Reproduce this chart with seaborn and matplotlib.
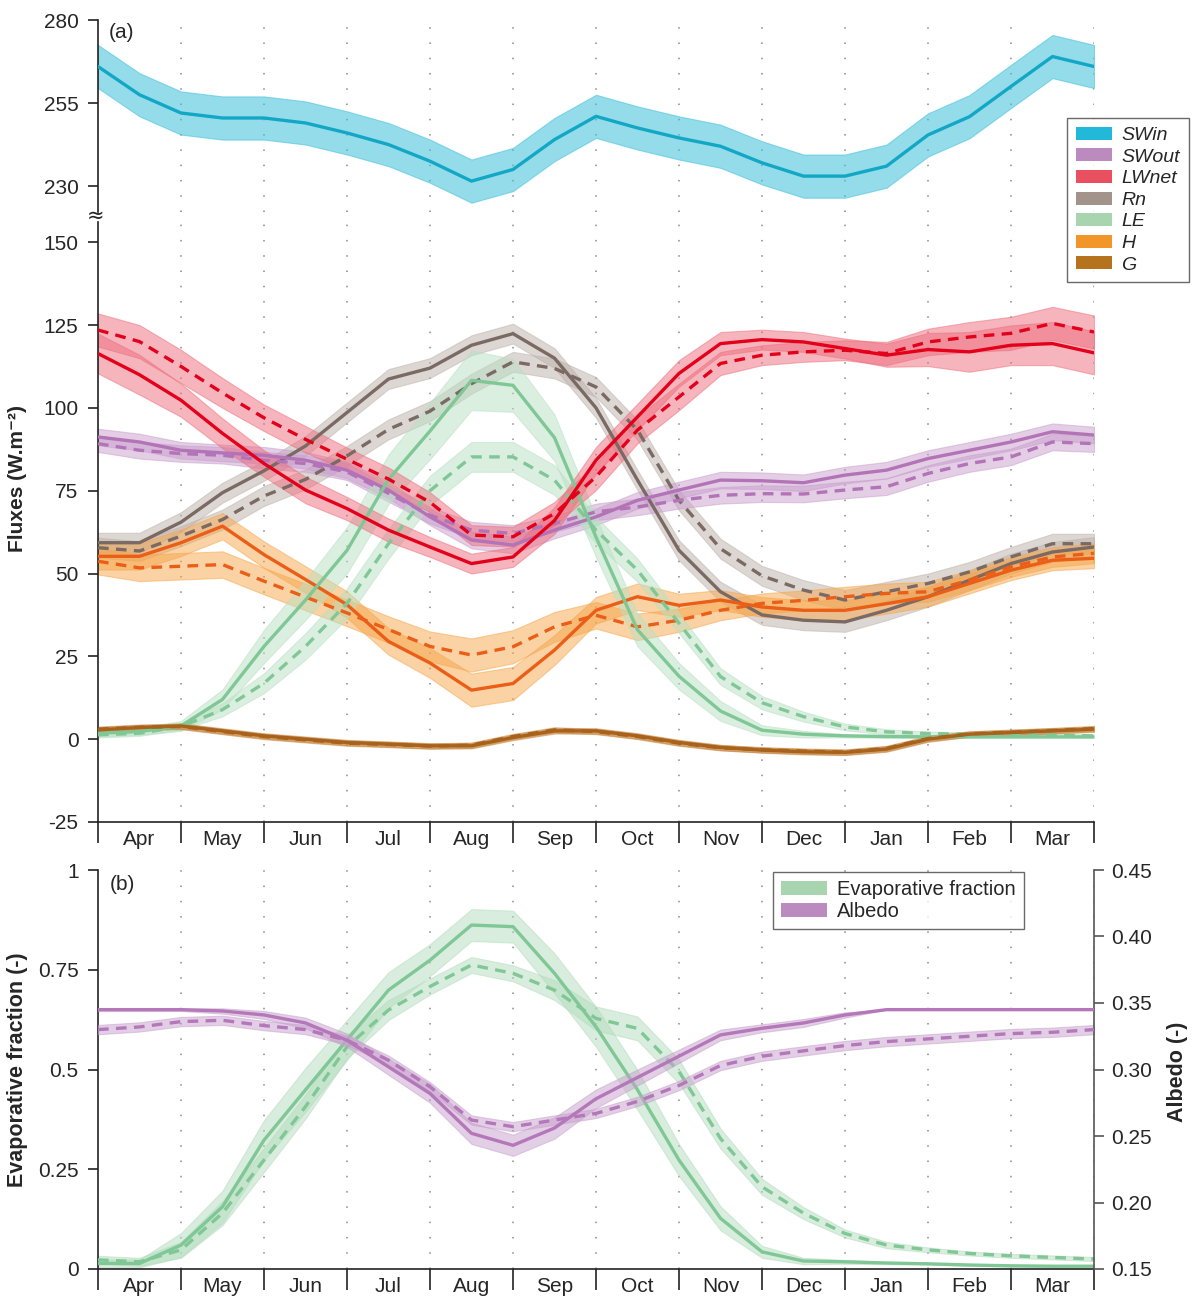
import numpy as np
import matplotlib
matplotlib.use("Agg")
import matplotlib.pyplot as plt
import seaborn as sns
from matplotlib.patches import Patch

sns.set_theme(style="white")
plt.rcParams["font.family"] = ["Liberation Sans", "DejaVu Sans"]
plt.rcParams["axes.unicode_minus"] = False

# ---------------- data (half-month steps, Apr -> Mar) ----------------
months = ["Apr", "May", "Jun", "Jul", "Aug", "Sep", "Oct", "Nov", "Dec", "Jan", "Feb", "Mar"]
month_pos = np.arange(25) * 0.5

swin = [266, 257.5, 252, 250.5, 250.5, 249, 246, 242.5, 237.5, 231.5, 235, 244, 251,
        247.5, 244.5, 242, 237, 233, 233, 236, 245.4, 250.9, 260, 269, 266]

swout_s = [91.2, 89.7, 87.2, 86.4, 85.7, 84.2, 81.2, 75.2, 67.1, 60.1, 58.6, 63.1, 67.1,
           72.1, 75.2, 78.2, 78, 77.4, 79.7, 81.2, 84.7, 87.2, 89.7, 92.8, 91.8]
swout_d = [89.2, 87.2, 86.2, 85.7, 84.2, 83.2, 80.7, 74.2, 67.6, 63.1, 62.1, 65.1, 68.6,
           70.1, 72.1, 73.6, 74.1, 74, 75.2, 76.2, 80.2, 83.2, 85.2, 89.7, 89.2]

lwnet_s = [116.4, 110, 102.3, 92.3, 83.2, 75.2, 69.6, 63.1, 58, 53, 55, 66, 84.2,
           97.3, 110.4, 119.4, 120.6, 119.9, 117.9, 115.9, 117.6, 116.9, 118.9, 119.4, 116.6]
lwnet_d = [123.5, 120, 112.5, 104.5, 97, 90.5, 84.5, 78.5, 71.5, 61.6, 61.1, 68.1, 79.2,
           93.3, 103.3, 113.4, 115.9, 116.9, 117.4, 116.4, 119.9, 121.4, 122.5, 125.5, 122.9]

rn_s = [59.3, 59.3, 65.5, 74.4, 81, 88.5, 98.6, 108.7, 112, 118.9, 122.4, 115, 100,
        78.2, 57, 44.5, 37.5, 35.9, 35.4, 38.9, 43, 48, 53, 56.5, 58]
rn_d = [57.8, 56.8, 61.3, 66.3, 73.4, 78.4, 85.5, 93.5, 99, 107.3, 113.9, 111.9, 106.3,
        93.3, 72.1, 57.5, 49.3, 45, 42, 44.5, 47, 50.5, 55, 59, 59]

le_s = [1.8, 2.3, 4, 12, 28, 42, 57, 78.4, 93, 108.3, 106.8, 91, 61,
        33, 19, 8.5, 2.7, 1.5, 1.0, 0.8, 0.7, 0.7, 0.7, 0.7, 0.7]
le_d = [1.3, 1.8, 3.8, 8.9, 16.9, 28, 41, 59, 75, 85.2, 85.2, 78.2, 63.1,
        51, 35, 18.9, 11, 6.8, 3.7, 2.2, 1.7, 1.5, 1.3, 1.2, 1.0]

h_s = [55.2, 55.2, 59.3, 64.3, 55.7, 48.2, 40.6, 29.5, 23, 14.8, 16.8, 26.9, 38.9,
       43, 40.4, 42, 39.9, 38.9, 38.9, 40.9, 43, 47, 51, 54, 54.6]
h_d = [53.7, 51.7, 52.2, 52.7, 47.7, 42.9, 38.1, 33.1, 28, 25.4, 27.9, 33.9, 37.4,
       33.9, 35.9, 38.9, 41, 41.9, 43, 44, 44.5, 48, 52, 55, 56.1]

g_s = [2.8, 3.5, 4, 2.5, 1, 0, -1, -1.5, -2, -2, 0.5, 2.5, 2.5,
       1, -1, -2.5, -3.3, -3.8, -4, -3, 0, 1.5, 2, 2.5, 3]
g_d = [3.0, 3.6, 3.8, 2.3, 0.8, -0.2, -1.2, -1.6, -2.1, -1.8, 0.8, 2.8, 2.3,
       0.8, -1.2, -2.6, -3.2, -3.6, -3.9, -2.8, 0.2, 1.6, 2.1, 2.6, 3.2]

ef_s = [0.014, 0.014, 0.06, 0.156, 0.323, 0.449, 0.574, 0.699, 0.774, 0.862, 0.858, 0.741, 0.607,
        0.449, 0.273, 0.127, 0.043, 0.02, 0.018, 0.015, 0.013, 0.01, 0.008, 0.007, 0.007]
ef_d = [0.023, 0.018, 0.048, 0.14, 0.273, 0.407, 0.557, 0.649, 0.708, 0.762, 0.741, 0.699, 0.628,
        0.603, 0.495, 0.327, 0.206, 0.14, 0.089, 0.06, 0.048, 0.039, 0.033, 0.029, 0.025]

alb_s = [0.345, 0.345, 0.345, 0.344, 0.341, 0.335, 0.322, 0.302, 0.282, 0.252, 0.243, 0.256, 0.278,
         0.294, 0.31, 0.326, 0.331, 0.335, 0.341, 0.345, 0.345, 0.345, 0.345, 0.345, 0.345]
alb_d = [0.33, 0.332, 0.336, 0.337, 0.333, 0.33, 0.322, 0.307, 0.287, 0.262, 0.257, 0.262, 0.267,
         0.276, 0.288, 0.303, 0.31, 0.314, 0.318, 0.321, 0.323, 0.325, 0.327, 0.328, 0.33]

# band half-widths
swin_sd = [6.5] * 25
swout_sd = [2.5] * 25
lwnet_s_sd = [6, 6, 5, 4.5, 4, 4, 3.5, 3.5, 3, 3, 3, 4, 4, 4, 4, 3.5, 3, 3, 3, 3.5, 5, 6, 6, 6.5, 6.5]
lwnet_d_sd = [5, 5, 5, 4.5, 4, 4, 3.5, 3.5, 3, 3, 3, 3.5, 4, 4, 4, 3.5, 3, 3, 3, 3.5, 4, 4.5, 5, 5, 5]
rn_sd = [3] * 25
le_s_sd = [1, 1, 1.5, 3, 5, 6, 7, 7.5, 8.5, 9, 8, 7, 6, 5, 4, 3, 1.5, 1, 0.5, 0.4, 0.3, 0.3, 0.3, 0.3, 0.3]
le_d_sd = [0.8, 0.8, 1, 2, 3, 4, 4.5, 4.5, 4.5, 4.5, 4.5, 4.5, 4, 3.5, 3, 2.5, 2, 1.5, 1, 0.8, 0.6, 0.5, 0.5, 0.5, 0.5]
h_sd = [4, 4, 4, 4, 4, 4, 4, 4, 4.5, 5, 5, 4.5, 4, 4, 3.5, 3, 3, 3, 3, 3, 3, 3, 3, 3, 3]
g_sd = [0.8] * 25
ef_s_sd = [0.01, 0.01, 0.03, 0.04, 0.05, 0.055, 0.05, 0.045, 0.04, 0.04, 0.04, 0.05, 0.05,
           0.05, 0.04, 0.03, 0.015, 0.008, 0.005, 0.003, 0.002, 0.002, 0.002, 0.002, 0.002]
ef_d_sd = [0.01, 0.01, 0.02, 0.03, 0.03, 0.03, 0.03, 0.025, 0.02, 0.02, 0.02, 0.025, 0.03,
           0.03, 0.03, 0.025, 0.02, 0.015, 0.01, 0.008, 0.006, 0.005, 0.005, 0.005, 0.005]
alb_s_sd = [0.001, 0.001, 0.001, 0.002, 0.003, 0.004, 0.005, 0.006, 0.007, 0.008, 0.008, 0.008, 0.007,
            0.006, 0.005, 0.004, 0.003, 0.003, 0.002, 0, 0, 0, 0, 0, 0]
alb_d_sd = [0.0035] * 25

# ---------------- styling ----------------
COL = {
    "SWin": ("#12a8c5", "#3fc0dc", "#21b8d9"),
    "SWout": ("#b373b7", "#c99ecd", "#bb8bbf"),
    "LWnet": ("#e3001b", "#ee6d7c", "#e8505f"),
    "Rn": ("#7a6a63", "#bdb1ab", "#a3948b"),
    "LE": ("#80c796", "#b9e0c3", "#a8d5b0"),
    "H": ("#ea5e17", "#f7a64a", "#f39629"),
    "G": ("#a8621b", "#c98a45", "#b5731e"),
}
DASH = (0, (3.2, 2.2))
W, H = 1194, 1299


def rect(x0, y0, x1, y1):
    return [x0 / W, 1 - y1 / H, (x1 - x0) / W, (y1 - y0) / H]


def draw(ax, y, sd, line_c, band_c, dashed=False, lw=2.4, alpha=0.5):
    y = np.asarray(y, float)
    sd = np.asarray(sd, float)
    ax.fill_between(month_pos, y - sd, y + sd, facecolor=band_c, alpha=alpha,
                    edgecolor=band_c, linewidth=0.8, zorder=2)
    sns.lineplot(x=month_pos, y=y, ax=ax, color=line_c, linewidth=lw,
                 linestyle=DASH if dashed else "-", zorder=3)


fig = plt.figure(figsize=(W / 100, H / 100), dpi=100)
ax_top = fig.add_axes(rect(98, 20, 1094, 212))
ax_low = fig.add_axes(rect(98, 222, 1094, 822))
ax_b = fig.add_axes(rect(98, 870, 1094, 1269))
ax_r = ax_b.twinx()

FS = 15
for ax in (ax_top, ax_low, ax_b, ax_r):
    ax.set_xlim(0, 12)
    ax.set_facecolor("none")
    for s in ax.spines.values():
        s.set_visible(False)
        s.set_linewidth(1.2)
        s.set_color("#222222")

# vertical dotted grid
for ax in (ax_top, ax_low, ax_b):
    for m in range(1, 13):
        ax.axvline(m, color="#8a8a8a", lw=1.1, ls=(0, (1, 9)), zorder=0)

# ---- panel (a) upper: SWin
c = COL["SWin"]
draw(ax_top, swin, swin_sd, c[0], c[1], alpha=0.55)
ax_top.set_ylim(222.2, 280)
ax_top.set_yticks([230, 255, 280])
ax_top.spines["left"].set_visible(True)
ax_top.set_xticks([])

# ---- panel (a) lower
order = [("Rn", rn_d, rn_sd, True), ("Rn", rn_s, rn_sd, False),
         ("SWout", swout_d, swout_sd, True), ("SWout", swout_s, swout_sd, False),
         ("H", h_d, h_sd, True), ("H", h_s, h_sd, False),
         ("LE", le_d, le_d_sd, True), ("LE", le_s, le_s_sd, False),
         ("LWnet", lwnet_d, lwnet_d_sd, True), ("LWnet", lwnet_s, lwnet_s_sd, False),
         ("G", g_d, g_sd, True), ("G", g_s, g_sd, False)]
for name, vals, sd, dashed in order:
    c = COL[name]
    draw(ax_low, vals, sd, c[0], c[1], dashed=dashed)
ax_low.set_ylim(-25, 156.1)
ax_low.set_yticks(np.arange(-25, 151, 25))
ax_low.spines["left"].set_visible(True)
ax_low.spines["bottom"].set_visible(True)

# ---- panel (b)
ef_line, ef_band = "#80c796", "#b3dcbd"
al_line, al_band = "#b477b9", "#c7a0cc"
draw(ax_b, ef_d, ef_d_sd, ef_line, ef_band, dashed=True)
draw(ax_b, ef_s, ef_s_sd, ef_line, ef_band)
draw(ax_r, alb_d, alb_d_sd, al_line, al_band, dashed=True)
draw(ax_r, alb_s, alb_s_sd, al_line, al_band)
ax_b.set_ylim(0, 1)
ax_b.set_yticks([0, 0.25, 0.5, 0.75, 1])
ax_b.set_yticklabels(["0", "0.25", "0.5", "0.75", "1"])
ax_r.set_ylim(0.15, 0.45)
ax_r.set_yticks(np.arange(0.15, 0.451, 0.05))
ax_r.set_yticklabels([f"{v:.2f}" for v in np.arange(0.15, 0.451, 0.05)])
ax_b.spines["left"].set_visible(True)
ax_b.spines["bottom"].set_visible(True)
ax_r.spines["right"].set_visible(True)
ax_r.spines["right"].set_color("#555555")

for ax in (ax_top, ax_low, ax_b, ax_r):
    ax.set_xlabel("")
    ax.set_ylabel("")

# ticks
for ax in (ax_top, ax_low, ax_b):
    ax.tick_params(axis="y", which="both", left=True, direction="out", length=7,
                   width=1.2, color="#222222", labelsize=FS, pad=7)
ax_r.tick_params(axis="y", right=True, direction="out", length=7, width=1.2,
                 color="#555555", labelsize=FS, pad=5)
for ax in (ax_low, ax_b):
    ax.set_xticks(range(13))
    ax.set_xticklabels([""] * 13)
    ax.set_xticks(month_pos[1::2], minor=True)
    ax.set_xticklabels(months, minor=True)
    ax.tick_params(axis="x", which="major", bottom=True, direction="out", length=15,
                   width=1.2, color="#222222")
    ax.tick_params(axis="x", which="minor", bottom=True, length=0, labelsize=FS, pad=6)
ax_r.tick_params(axis="x", bottom=False)

# axis break mark
fig.text(96 / W, 1 - 216 / H, "≈", ha="center", va="center", fontsize=15,
         family=["DejaVu Sans"])

# panel labels
fig.text(122 / W, 1 - 32 / H, "(a)", ha="center", va="center", fontsize=FS)
fig.text(122 / W, 1 - 885 / H, "(b)", ha="center", va="center", fontsize=FS)

# axis titles
fig.text(18 / W, 1 - 478 / H, "Fluxes (W.m⁻²)", rotation=90, ha="center", va="center",
         fontsize=15, fontweight="bold")
fig.text(18 / W, 1 - 1070 / H, "Evaporative fraction (-)", rotation=90, ha="center",
         va="center", fontsize=15.5, fontweight="bold")
fig.text(1178 / W, 1 - 1072 / H, "Albedo (-)", rotation=90, ha="center", va="center",
         fontsize=15.5, fontweight="bold")

# legends
handles = [Patch(facecolor=COL[k][2], edgecolor="none", label=k)
           for k in ["SWin", "SWout", "LWnet", "Rn", "LE", "H", "G"]]
leg = fig.legend(handles=handles, loc="upper left",
                 bbox_to_anchor=(1067 / W, 1 - 118 / H), frameon=True, fancybox=False,
                 prop={"size": 14, "style": "italic"}, handlelength=1.85, handleheight=0.65,
                 labelspacing=0.22, borderpad=0.45, handletextpad=0.5, borderaxespad=0)
leg.get_frame().set_edgecolor("#444444")
leg.get_frame().set_linewidth(1.0)

h2 = [Patch(facecolor="#a8d5b0", edgecolor="none", label="Evaporative fraction"),
      Patch(facecolor="#bb8bbf", edgecolor="none", label="Albedo")]
leg2 = fig.legend(handles=h2, loc="upper left", bbox_to_anchor=(773 / W, 1 - 872 / H),
                  frameon=True, fancybox=False, prop={"size": 14.5}, handlelength=2.3,
                  handleheight=0.65, labelspacing=0.15, borderpad=0.4, handletextpad=0.5,
                  borderaxespad=0)
leg2.get_frame().set_edgecolor("#444444")
leg2.get_frame().set_linewidth(1.0)

fig.savefig("out.png", dpi=100)
